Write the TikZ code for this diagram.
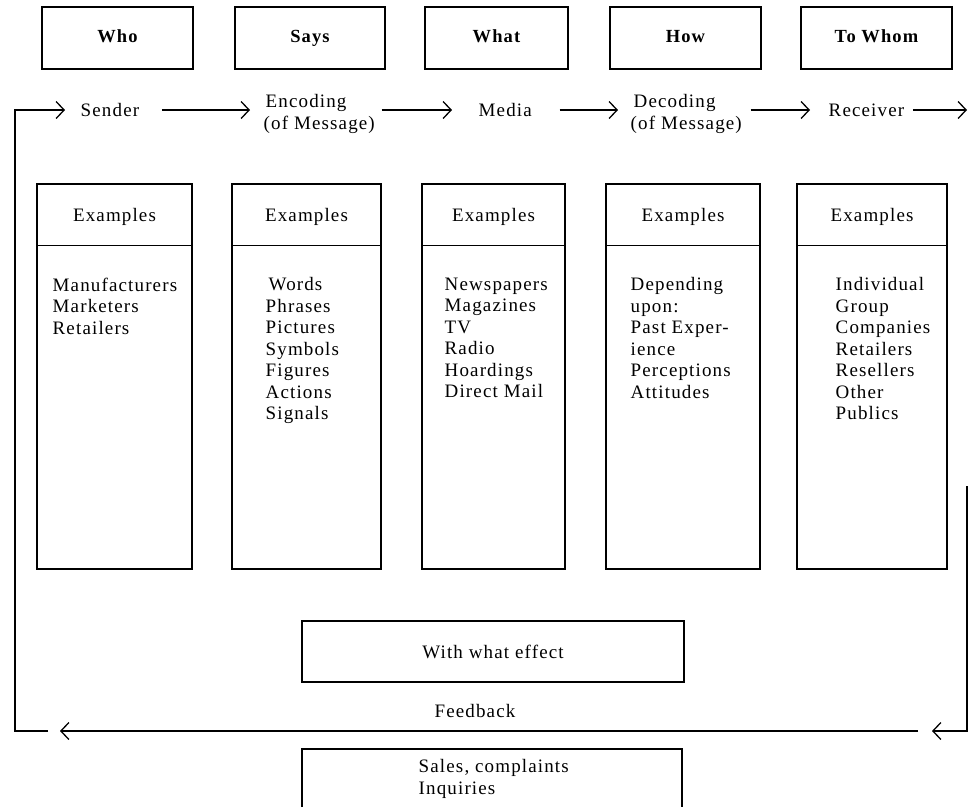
\documentclass[tikz,border=0pt]{standalone}
\usepackage{fontspec}
\setmainfont{Liberation Serif}[LetterSpace=6]
\usetikzlibrary{arrows.meta}
\begin{document}
\begin{tikzpicture}[x=1pt,y=-1pt,
  line width=1.4pt,
  every node/.style={inner sep=0pt, font=\fontsize{19}{21.5}\selectfont},
  topbox/.style={draw, minimum height=62pt, text height=12pt, text depth=4pt, font=\fontsize{18.5}{21.5}\selectfont\bfseries},
  exbox/.style={draw, minimum height=385pt},
  lbl/.style={align=left},
  listtxt/.style={align=left, anchor=north west},
  arr/.style={-{Straight Barb[length=8pt,width=17pt,line width=1.3pt]}}
]
\useasboundingbox (0,0) rectangle (970,807);
% top boxes
\node[topbox, minimum width=151pt] (who)  at (117.5,38) {Who};
\node[topbox, minimum width=150pt] (says) at (310,38) {Says};
\node[topbox, minimum width=143pt] (what) at (496.5,38) {What};
\node[topbox, minimum width=151pt] (how)  at (685.5,38) {How};
\node[topbox, minimum width=151pt] (whom) at (876.5,38) {To Whom};
% flow row
\node[anchor=west] (sender) at (80,110) {Sender};
\node[lbl, anchor=west] (encoding) at (263,114) {\hspace{2pt}Encoding\\(of Message)};
\node[anchor=west] (media) at (478,110) {Media};
\node[lbl, anchor=west] (decoding) at (630,114) {\hspace{3pt}Decoding\\(of Message)};
\node[anchor=west] (receiver) at (828,110) {Receiver};
\coordinate (out) at (967,110);
\draw[arr, shorten <=22pt, shorten >=13pt] (sender.east) -- (sender.east -| encoding.west);
\draw[arr, shorten <=6pt, shorten >=26pt] (sender.east -| encoding.east) -- (sender.east -| media.west);
\draw[arr, shorten <=27pt, shorten >=12pt] (media.east) -- (media.east -| decoding.west);
\draw[arr, shorten <=8pt, shorten >=18pt] (sender.east -| decoding.east) -- (receiver.west);
\draw[arr, shorten <=8pt] (receiver.east) -- (out);
% example boxes
\node[exbox, minimum width=155pt] (ex1) at (114.5,376.5) {};
\node[exbox, minimum width=149pt] (ex2) at (306.5,376.5) {};
\node[exbox, minimum width=143pt] (ex3) at (493.5,376.5) {};
\node[exbox, minimum width=154pt] (ex4) at (683,376.5) {};
\node[exbox, minimum width=150pt] (ex5) at (872,376.5) {};
\foreach \b in {ex1,ex2,ex3,ex4,ex5}{
  \draw ([yshift=-62pt]\b.north west) -- ([yshift=-62pt]\b.north east);
  \node[anchor=base] (\b h) at ([yshift=-38pt]\b.north) {Examples};
}
\node[listtxt] (l1) at (52,277) {Manufacturers\\Marketers\\Retailers};
\node[listtxt] (l2) at (265,277) {\hspace{3pt}Words\\Phrases\\Pictures\\Symbols\\Figures\\Actions\\Signals};
\node[listtxt] (l3) at (444,277) {Newspapers\\Magazines\\TV\\Radio\\Hoardings\\Direct Mail};
\node[listtxt] (l4) at (630,277) {Depending\\upon:\\Past Exper-\\ience\\Perceptions\\Attitudes};
\node[listtxt] (l5) at (835,277) {Individual\\Group\\Companies\\Retailers\\Resellers\\Other\\Publics};
% effect box
\node[draw, minimum width=382pt, minimum height=61pt] (effect) at (493,651.5) {With what effect};
% feedback
\node[anchor=base] (fbtext) at (475,717) {Feedback};
\coordinate (fbRtop) at (967,486);
\coordinate (fbRcorner) at (967,731);
\coordinate (fbRtip) at (932,731);
\coordinate (fbLine) at (918,731);
\coordinate (fbLtip) at (60,731);
\coordinate (fbLstub) at (48,731);
\coordinate (fbLcorner) at (15,731);
\draw[arr] (fbRtop) -- (fbRcorner) -- (fbRtip);
\draw[arr] (fbLine) -- (fbLtip);
\draw[arr, shorten >=15pt] (fbLstub) -- (fbLcorner) |- (sender.west);
% sales box (cut at bottom)
\coordinate (sbl) at (302,807);
\coordinate (sbr) at (682,807);
\draw (sbl) -- (302,749) -- (682,749) -- (sbr);
\node[listtxt] (sales) at (418,759) {Sales, complaints\\Inquiries};
\end{tikzpicture}
\end{document}
